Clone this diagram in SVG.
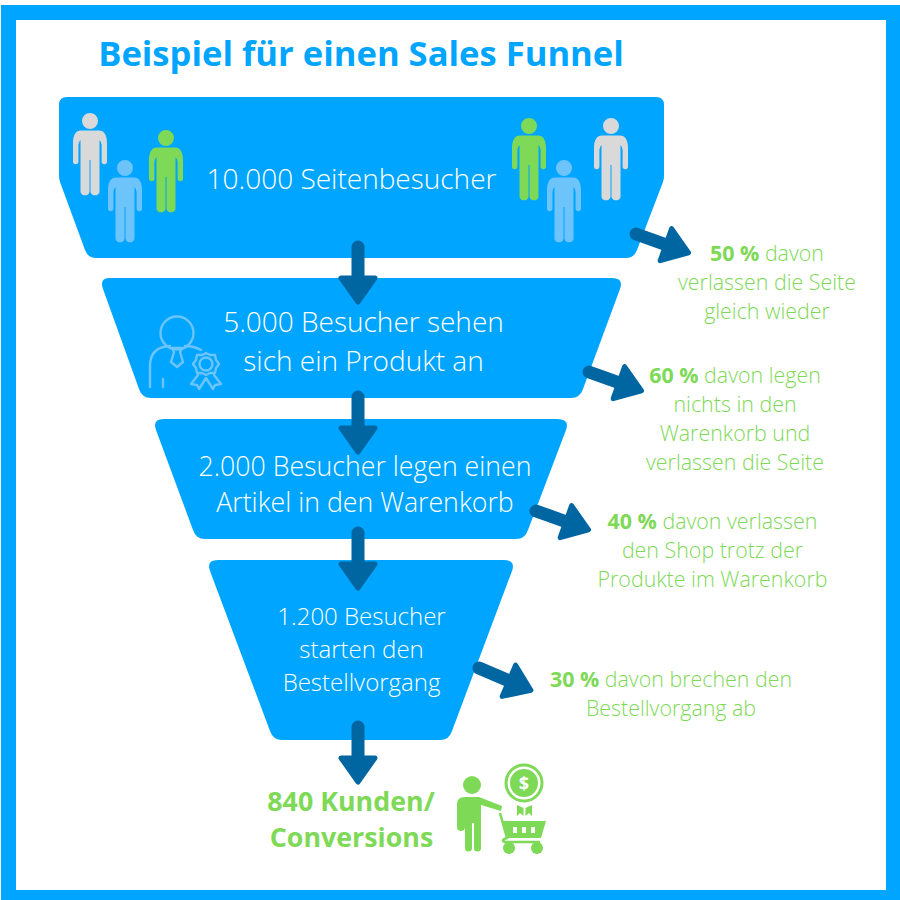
<svg xmlns="http://www.w3.org/2000/svg" width="900" height="900" viewBox="0 0 900 900">
<style>
text{font-family:"Open Sans","Noto Sans",sans-serif;text-anchor:middle}
.f{fill:#00a5ff}
.w{fill:#fff;font-weight:300}
.g{fill:#7ed957;font-weight:300;font-size:21.400px}
.g tspan{font-weight:700}
.k{fill:#7ed957;font-weight:700;font-size:26.800px}
.a{stroke:#0066a2;stroke-width:13;stroke-linecap:round;fill:none;marker-end:url(#h)}
.ol{fill:none;stroke:#6cc4fb;stroke-width:2.400;stroke-linecap:round;stroke-linejoin:round}
</style>
<defs>
<marker id="h" markerUnits="userSpaceOnUse" markerWidth="50" markerHeight="50" refX="3" refY="25" orient="auto">
<path d="M5,8 L29,25 L5,42 Z" fill="#0066a2" stroke="#0066a2" stroke-width="5" stroke-linejoin="round"/>
</marker>
<path id="p" d="M-9,9.500H9C14,9.500 17,14 17,22V40.500a2.700,2.700 0 0 1-5.400,0V24Q11.500,21 9.500,19V71a4.700,4.700 0 0 1-9,0V39H-.5V71a4.700,4.700 0 0 1-9,0V19Q-11.500,21-11.600,24V40.500a2.700,2.700 0 0 1-5.400,0V22C-17,14-14,9.500-9,9.500ZM8,0A8,8 0 1 1-8,0A8,8 0 1 1 8,0Z"/>
</defs>
<rect x="8.500" y="12.500" width="885" height="885" fill="#fff" stroke="#00a5ff" stroke-width="15"/>
<text x="361" y="66" font-size="34.600" font-weight="700" fill="#00a5ff">Beispiel für einen Sales Funnel</text>
<g id="funnel-1">
<path class="f" d="M67,97H656Q664,97 664,105V176Q664,179 663,182L637,250Q634,258 626,258H96Q88,258 85,250L60,182Q59,179 59,176V105Q59,97 67,97Z"/>
<use href="#p" x="90" y="121" fill="#d9d9d9"/>
<use href="#p" x="125" y="168" fill="#6cc4fb"/>
<use href="#p" x="166" y="138" fill="#7ed957"/>
<use href="#p" x="529" y="126" fill="#7ed957"/>
<use href="#p" x="611" y="126" fill="#d9d9d9"/>
<use href="#p" x="564" y="168" fill="#6cc4fb"/>
<text class="w" x="351.500" y="189" font-size="28">10.000 Seitenbesucher</text>
</g>
<g id="funnel-2">
<path class="f" d="M110,278H612Q624,278 620,289L583,389Q580,398 571,398H151Q142,398 139,389L103,289Q99,278 110,278Z"/>
<g class="ol">
<circle cx="177" cy="333" r="16.500"/>
<path d="M150,387V366Q150,347 170,346M185,346Q194,346 201,350M163,387V379M172,348H182L180,352L183,362L177,367L171,362L174,352Z"/>
<circle cx="206" cy="364" r="6.500"/>
<path d="M206,353L210,355L215,355L216,360L219,364L216,368L215,373L210,373L206,375L202,373L197,373L196,368L193,364L196,360L197,355L202,355Z"/>
<path d="M198,375L191,384L197,385L199,389L206,378L213,389L215,385L221,384L214,375"/>
</g>
<text class="w" x="363.500" y="332" font-size="28">5.000 Besucher sehen</text>
<text class="w" x="363.500" y="371" font-size="28">sich ein Produkt an</text>
</g>
<g id="funnel-3">
<path class="f" d="M164,419H557Q570,419 566,430L528,530Q525,539 516,539H205Q196,539 193,530L156,430Q152,419 164,419Z"/>
<text class="w" x="365" y="476" font-size="26.700">2.000 Besucher legen einen</text>
<text class="w" x="365" y="512" font-size="26.700">Artikel in den Warenkorb</text>
</g>
<g id="funnel-4">
<path class="f" d="M218,560H503Q516,560 512,571L452,731Q449,740 440,740H282Q273,740 270,731L210,571Q206,560 218,560Z"/>
<text class="w" x="361.500" y="625" font-size="24">1.200 Besucher</text>
<text class="w" x="361.500" y="658" font-size="24">starten den</text>
<text class="w" x="361.500" y="691" font-size="24">Bestellvorgang</text>
</g>
<g id="connectors">
<line class="a" x1="358" y1="247" x2="358" y2="276"/>
<line class="a" x1="358" y1="397" x2="358" y2="426"/>
<line class="a" x1="358" y1="533" x2="358" y2="562"/>
<line class="a" x1="358" y1="727" x2="358" y2="756"/>
<line class="a" x1="636" y1="234" x2="664" y2="244"/>
<line class="a" x1="589" y1="372" x2="617" y2="382"/>
<line class="a" x1="536" y1="511" x2="564" y2="521"/>
<line class="a" x1="479" y1="668" x2="507" y2="680"/>
</g>
<g id="note-1"><text class="g" x="767" y="261"><tspan>50 %</tspan> davon</text><text class="g" x="767" y="290">verlassen die Seite</text><text class="g" x="767" y="319">gleich wieder</text></g>
<g id="note-2"><text class="g" x="735" y="383"><tspan>60 %</tspan> davon legen</text><text class="g" x="735" y="412">nichts in den</text><text class="g" x="735" y="441">Warenkorb und</text><text class="g" x="735" y="470">verlassen die Seite</text></g>
<g id="note-3"><text class="g" x="712.500" y="529"><tspan>40 %</tspan> davon verlassen</text><text class="g" x="712.500" y="558">den Shop trotz der</text><text class="g" x="712.500" y="587">Produkte im Warenkorb</text></g>
<g id="note-4"><text class="g" x="671" y="687"><tspan>30 %</tspan> davon brechen den</text><text class="g" x="671" y="716">Bestellvorgang ab</text></g>
<g id="customers">
<text class="k" x="351" y="811">840 Kunden/</text>
<text class="k" x="351.500" y="847">Conversions</text>
<circle cx="472" cy="785" r="9" fill="#7ed957"/>
<path fill="#7ed957" d="M465,797H479L502,806L501,811L481,805V848a3.500,3.500 0 0 1-7,0V823H472V848a3.500,3.500 0 0 1-7,0V827a3,3 0 0 1-8,0V804Q457,797 465,797Z"/>
<circle cx="524" cy="783" r="18" fill="none" stroke="#7ed957" stroke-width="3"/>
<circle cx="524" cy="783" r="14" fill="#7ed957"/>
<text x="524" y="789.500" font-size="18" font-weight="700" fill="#fff">$</text>
<path fill="#7ed957" d="M517,805L523.500,808V816L520,813L517,816ZM532,805L525.500,808V816L529,813L532,816Z"/>
<path fill="none" stroke="#7ed957" stroke-width="2.500" d="M500,813L507,838Q500,840 505,842H540"/>
<path fill="#7ed957" d="M503,821H546L541,838H508ZM513,827V833H517V827ZM522,827V833H526V827ZM531,827V833H535V827Z" fill-rule="evenodd"/>
<circle cx="509" cy="848" r="6" fill="#7ed957"/><circle cx="537" cy="848" r="6" fill="#7ed957"/>
</g>
</svg>
